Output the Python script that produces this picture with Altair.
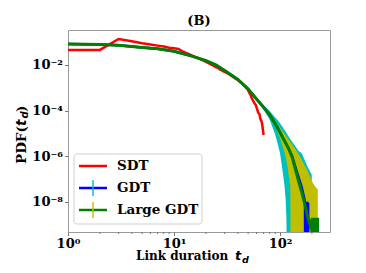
import altair as alt
import pandas as pd

# ---------------- data ----------------
series = ["SDT", "GDT", "Large GDT"]

# SDT (empirical) : t and log10(PDF)
sdt_t = [1, 2, 3, 4, 5, 6, 7, 8, 9, 10, 11, 12, 13, 14, 15, 16, 17, 18, 19, 20,
         21, 22, 23, 24, 25, 26, 27, 28, 29, 30, 31, 32, 33, 34, 35, 36, 37, 38, 39, 40,
         41, 42, 43, 44, 45, 46, 47, 48, 49, 50, 51, 52, 53, 54, 55, 56, 57, 58, 59, 60,
         61, 62, 63, 64, 65, 66, 67, 68, 69, 70]
sdt_log10 = [-1.34, -1.34, -0.86, -0.96, -1.05, -1.10, -1.15, -1.19, -1.24, -1.27,
             -1.30, -1.40, -1.47, -1.53, -1.60, -1.66, -1.71, -1.76, -1.81, -1.86,
             -1.91, -1.96, -2.00, -2.05, -2.10, -2.12, -2.19, -2.22, -2.27, -2.30,
             -2.33, -2.37, -2.40, -2.45, -2.48, -2.52, -2.55, -2.60, -2.62, -2.67,
             -2.70, -2.75, -2.77, -2.82, -2.86, -2.90, -2.95, -3.01, -3.05, -3.10,
             -3.20, -3.27, -3.33, -3.45, -3.52, -3.58, -3.65, -3.71, -3.75, -3.86,
             -3.95, -4.08, -4.12, -4.15, -4.33, -4.42, -4.48, -4.62, -4.85, -5.07]

# GDT model (blue line); -12 = empty bin (falls below the axis)
gdt_t = [1, 2, 3, 5, 7, 10, 12, 15, 20, 25, 30, 40, 50, 60, 70, 80, 90, 100, 110, 120,
         130, 140, 150, 160, 170, 172, 173, 175, 176, 178, 179, 181, 182, 184, 185]
gdt_log10 = [-1.08, -1.10, -1.13, -1.23, -1.29, -1.40, -1.50, -1.62, -1.81, -2.00,
             -2.24, -2.63, -3.05, -3.49, -3.86, -4.19, -4.57, -4.96, -5.32, -5.65,
             -6.00, -6.50, -6.95, -7.35, -7.90, -8.05, -12, -8.00, -12, -8.05,
             -12, -8.00, -12, -8.05, -12]

# Large GDT model (green line)
lgdt_t = [1, 2, 3, 5, 7, 10, 12, 15, 20, 25, 30, 40, 50, 60, 70, 80, 90, 100, 110, 120,
          130, 140, 150, 160, 170, 180, 190, 198, 200, 201, 203, 204, 206, 207, 210, 211,
          214, 215, 218, 219, 222, 223, 226, 227]
lgdt_log10 = [-1.08, -1.10, -1.13, -1.23, -1.29, -1.40, -1.50, -1.62, -1.81, -2.00,
              -2.24, -2.63, -3.05, -3.49, -3.86, -4.19, -4.57, -4.96, -5.32, -5.65,
              -6.04, -6.60, -7.12, -7.58, -8.05, -8.55, -8.93, -9.22, -8.75, -12,
              -8.70, -12, -8.75, -12, -8.70, -12, -8.75, -12, -8.70, -12, -8.75, -12,
              -8.70, -12]

# GDT error bars (cyan): lower / upper bounds, log10
gdt_err_t = [60, 70, 80, 90, 95, 100, 105, 110, 113, 115, 116, 120, 130, 140, 150,
             160, 170, 180, 192, 199]
gdt_err_lo = [-3.55, -3.95, -4.41, -5.05, -5.45, -5.87, -6.55, -7.25, -7.90, -8.80,
              -12, -12, -12, -12, -12, -12, -12, -12, -12, -12]
gdt_err_hi = [-3.43, -3.76, -4.02, -4.30, -4.41, -4.55, -4.70, -4.85, -4.92, -4.98,
              -5.00, -5.12, -5.37, -5.58, -5.77, -5.87, -6.15, -6.42, -6.68, -6.80]

# Large GDT error bars (yellow)
lgdt_err_t = [60, 70, 80, 90, 100, 111, 118, 125, 126, 130, 140, 148, 160, 170, 180,
              192, 205, 220, 227]
lgdt_err_lo = [-3.52, -3.90, -4.27, -4.70, -5.20, -5.87, -6.50, -7.34, -12, -12, -12,
               -12, -12, -12, -12, -12, -12, -12, -12]
lgdt_err_hi = [-3.46, -3.82, -4.12, -4.45, -4.75, -5.05, -5.22, -5.38, -5.40, -5.50,
               -5.70, -5.87, -6.15, -6.40, -6.60, -6.90, -7.20, -7.39, -7.45]

x_ticks = [1, 10, 100]
x_minor = [2, 3, 4, 5, 6, 7, 8, 9, 20, 30, 40, 50, 60, 70, 80, 90, 200]
y_ticks = [1e-2, 1e-4, 1e-6, 1e-8]

# ---------------- styles ----------------
FONT = "DejaVu Serif"
MATH = "DejaVu Sans"
RED, BLUE, GREEN = "#ff0000", "#0000ff", "#008000"
CYAN, YELLOW = "#00bfbf", "#bfbf00"
W, H = 262, 202


def line_df(t, lg):
    return pd.DataFrame({"t": t, "p": [10.0 ** v for v in lg]})


def band_df(t, lo, hi):
    return pd.DataFrame({"t": t, "lo": [10.0 ** v for v in lo],
                         "hi": [10.0 ** v for v in hi]})


xs = alt.Scale(type="log", domain=[1, 296], nice=False)
ys = alt.Scale(type="log", domain=[10 ** -9.325, 10 ** -0.465], nice=False)

x_axis = alt.Axis(values=x_ticks, title=None, grid=False, domain=False,
                  tickSize=3.5, tickColor="#777777",
                  labelExpr="datum.value >= 100 ? '10²' : datum.value >= 10 ? '10¹' : '10⁰'",
                  labelFont=FONT, labelFontWeight="bold", labelFontSize=13,
                  labelColor="black", labelPadding=2, labelFlush=False)
y_axis = alt.Axis(values=y_ticks, title=None, grid=False, domain=False,
                  tickSize=3.5, tickColor="#777777",
                  labelExpr="datum.value > 1e-3 ? '10⁻²' : datum.value > 1e-5 ? '10⁻⁴' : datum.value > 1e-7 ? '10⁻⁶' : '10⁻⁸'",
                  labelFont=FONT, labelFontWeight="bold", labelFontSize=13,
                  labelColor="black", labelPadding=2)

xe = alt.X("t:Q", scale=xs, axis=x_axis)


def ye(field):
    return alt.Y(field, scale=ys, axis=y_axis)


band_gdt = alt.Chart(band_df(gdt_err_t, gdt_err_lo, gdt_err_hi)).mark_area(
    color=CYAN, clip=True).encode(x=xe, y=ye("lo:Q"), y2="hi:Q")
band_lgdt = alt.Chart(band_df(lgdt_err_t, lgdt_err_lo, lgdt_err_hi)).mark_area(
    color=YELLOW, clip=True).encode(x=xe, y=ye("lo:Q"), y2="hi:Q")
line_sdt = alt.Chart(line_df(sdt_t, sdt_log10)).mark_line(
    color=RED, strokeWidth=2.5, clip=True).encode(x=xe, y=ye("p:Q"))
line_gdt = alt.Chart(line_df(gdt_t, gdt_log10)).mark_line(
    color=BLUE, strokeWidth=2.5, clip=True).encode(x=xe, y=ye("p:Q"))
line_lgdt = alt.Chart(line_df(lgdt_t, lgdt_log10)).mark_line(
    color=GREEN, strokeWidth=3, clip=True).encode(x=xe, y=ye("p:Q"))
minor = alt.Chart(pd.DataFrame({"t": x_minor})).mark_rule(
    color="#777777", strokeWidth=1).encode(x=xe, y=alt.value(H), y2=alt.value(H + 2))

data_layer = alt.layer(band_gdt, line_sdt, band_lgdt, line_gdt, line_lgdt, minor)

# ---------------- legend (custom) ----------------
leg_df = pd.DataFrame({"name": series})
err_df = pd.DataFrame({"name": series[1:]})
row = alt.Scale(type="point", domain=series, range=[136, 180], padding=0)
box = alt.Chart(pd.DataFrame({"a": [0]})).mark_rect(
    fill="white", stroke="#d0d0d0", strokeWidth=1, cornerRadius=3).encode(
    x=alt.value(6), x2=alt.value(134), y=alt.value(124), y2=alt.value(194))
leg_lines = alt.Chart(leg_df).mark_rule(strokeWidth=2.5).encode(
    x=alt.value(11), x2=alt.value(39),
    y=alt.Y("name:N", scale=row, axis=None),
    color=alt.Color("name:N", scale=alt.Scale(domain=series, range=[RED, BLUE, GREEN]),
                    legend=None))
leg_err = alt.Chart(err_df).mark_tick(orient="vertical", size=16, thickness=2).encode(
    x=alt.value(25),
    y=alt.Y("name:N", scale=row, axis=None),
    color=alt.Color("name:N", scale=alt.Scale(domain=series[1:], range=[CYAN, YELLOW]),
                    legend=None))
leg_text = alt.Chart(leg_df).mark_text(
    align="left", baseline="middle", font=FONT, fontWeight="bold", fontSize=13.5,
    color="black").encode(
    x=alt.value(49), y=alt.Y("name:N", scale=row, axis=None), text="name:N")
legend_layer = alt.layer(box, leg_lines, leg_err, leg_text).resolve_scale(color="independent")

# ---------------- titles (with subscripts) ----------------
one = pd.DataFrame({"a": [0]})


def txt(s, x, y, size=13, font=FONT, style="normal", angle=0, baseline="alphabetic",
        align="left"):
    return alt.Chart(one).mark_text(
        text=s, align=align, baseline=baseline, font=font, fontSize=size,
        fontWeight="bold", fontStyle=style, angle=angle, color="black").encode(
        x=alt.value(x), y=alt.value(y))


xt = [txt("Link duration", 68, 230, size=12),
      txt("t", 167, 230, size=13, font=MATH, style="italic"),
      txt("d", 174, 233, size=9.5, font=MATH, style="italic")]
yt = [txt("PDF(", -46, 134, size=13.5, angle=270, baseline="middle"),
      txt("t", -46, 96, size=13.5, font=MATH, style="italic", angle=270, baseline="middle"),
      txt("d", -43, 88.5, size=10, font=MATH, style="italic", angle=270, baseline="middle"),
      txt(")", -46, 82, size=13.5, angle=270, baseline="middle")]
ttl = [txt("(B)", W / 2, -5, size=13, align="center")]
title_layer = alt.layer(*xt, *yt, *ttl)

chart = alt.layer(data_layer, legend_layer, title_layer).resolve_scale(
    x="independent", y="independent", color="independent").properties(
    width=W, height=H,
    autosize=alt.AutoSizeParams(type="none"),
    padding={"left": 60, "top": 22, "right": 20, "bottom": 40},
).configure_view(stroke="#9a9a9a", strokeWidth=1)

chart.save("out.html", embed_options={"renderer": "svg", "actions": False})
